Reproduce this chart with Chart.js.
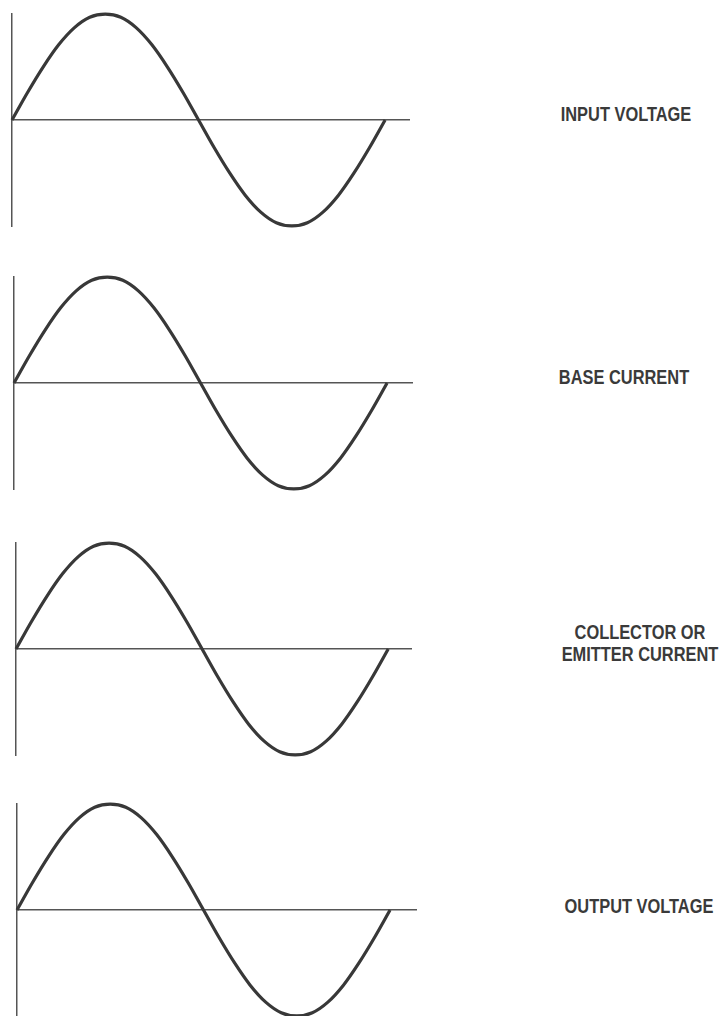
<!DOCTYPE html>
<html>
<head>
<meta charset="utf-8">
<script src="https://cdn.jsdelivr.net/npm/chart.js@4.4.1/dist/chart.umd.min.js"></script>
<style>
  html, body { margin: 0; padding: 0; background: #fff; overflow: hidden; }
  body { width: 723px; height: 1016px; position: relative; }
  .panel { position: absolute; }
  .label {
    position: absolute;
    transform: translate(-50%, -50%) scaleX(0.82);
    font-family: 'Liberation Sans', Arial, sans-serif;
    font-weight: bold;
    font-size: 20px;
    line-height: 22px;
    color: #3a3a3a;
    text-align: center;
    white-space: nowrap;
  }
</style>
</head>
<body>
<script>
// phase in degrees (all in phase)
const phase = [0, 15, 30, 45, 60, 75, 90, 105, 120, 135, 150, 165, 180,
               195, 210, 225, 240, 255, 270, 285, 300, 315, 330, 345, 360];
const inputVoltage     = [0, 0.26, 0.5, 0.71, 0.87, 0.97, 1, 0.97, 0.87, 0.71, 0.5, 0.26, 0,
                          -0.26, -0.5, -0.71, -0.87, -0.97, -1, -0.97, -0.87, -0.71, -0.5, -0.26, 0];
const baseCurrent      = [0, 0.26, 0.5, 0.71, 0.87, 0.97, 1, 0.97, 0.87, 0.71, 0.5, 0.26, 0,
                          -0.26, -0.5, -0.71, -0.87, -0.97, -1, -0.97, -0.87, -0.71, -0.5, -0.26, 0];
const collectorCurrent = [0, 0.26, 0.5, 0.71, 0.87, 0.97, 1, 0.97, 0.87, 0.71, 0.5, 0.26, 0,
                          -0.26, -0.5, -0.71, -0.87, -0.97, -1, -0.97, -0.87, -0.71, -0.5, -0.26, 0];
const outputVoltage    = [0, 0.26, 0.5, 0.71, 0.87, 0.97, 1, 0.97, 0.87, 0.71, 0.5, 0.26, 0,
                          -0.26, -0.5, -0.71, -0.87, -0.97, -1, -0.97, -0.87, -0.71, -0.5, -0.26, 0];
const labels = [['INPUT VOLTAGE'], ['BASE CURRENT'], ['COLLECTOR OR', 'EMITTER CURRENT'], ['OUTPUT VOLTAGE']];

const series = [inputVoltage, baseCurrent, collectorCurrent, outputVoltage];

// plot area of each panel on the page (left, right, zero line) and label centre
const panels = [
  { left: 12, right: 410, zero: 120, axisMax: 384, lx: 626, ly: 114 },
  { left: 14, right: 413, zero: 383, axisMax: 385, lx: 624, ly: 377 },
  { left: 16, right: 412, zero: 649, axisMax: 383, lx: 640, ly: 643 },
  { left: 17, right: 417, zero: 910, axisMax: 386, lx: 639, ly: 906 }
];
const half = 107;   // pixels from zero line to edge of plot
const pad = 6;
const ink = '#383838';

function makeScale(min, max) {
  return {
    type: 'linear',
    min: min,
    max: max,
    ticks: { display: false },
    border: { display: false },
    grid: {
      drawTicks: false,
      lineWidth: 1.5,
      color: ctx => (ctx.tick && ctx.tick.value === 0) ? '#555' : 'rgba(0,0,0,0)'
    },
    afterBuildTicks: s => { s.ticks = [{ value: 0 }]; }
  };
}

panels.forEach((p, i) => {
  const wrap = document.createElement('div');
  wrap.className = 'panel';
  const w = p.right - p.left + pad * 2;
  const h = half * 2 + pad * 2;
  wrap.style.left = (p.left - pad) + 'px';
  wrap.style.top = (p.zero - half - pad) + 'px';
  wrap.style.width = w + 'px';
  wrap.style.height = h + 'px';
  const canvas = document.createElement('canvas');
  canvas.width = w;
  canvas.height = h;
  wrap.appendChild(canvas);
  document.body.appendChild(wrap);

  new Chart(canvas, {
    type: 'line',
    data: {
      datasets: [{
        data: phase.map((d, k) => ({ x: d, y: series[i][k] })),
        borderColor: ink,
        borderWidth: 3.2,
        pointRadius: 0,
        cubicInterpolationMode: 'monotone',
        fill: false,
        clip: false
      }]
    },
    options: {
      responsive: false,
      animation: false,
      devicePixelRatio: 1,
      layout: { padding: pad },
      plugins: { legend: { display: false }, tooltip: { enabled: false } },
      scales: {
        x: makeScale(0, p.axisMax),
        y: makeScale(-1.01, 1.01)
      }
    }
  });

  const lab = document.createElement('div');
  lab.className = 'label';
  lab.style.left = p.lx + 'px';
  lab.style.top = p.ly + 'px';
  lab.innerHTML = labels[i].join('<br>');
  document.body.appendChild(lab);
});
</script>
</body>
</html>
